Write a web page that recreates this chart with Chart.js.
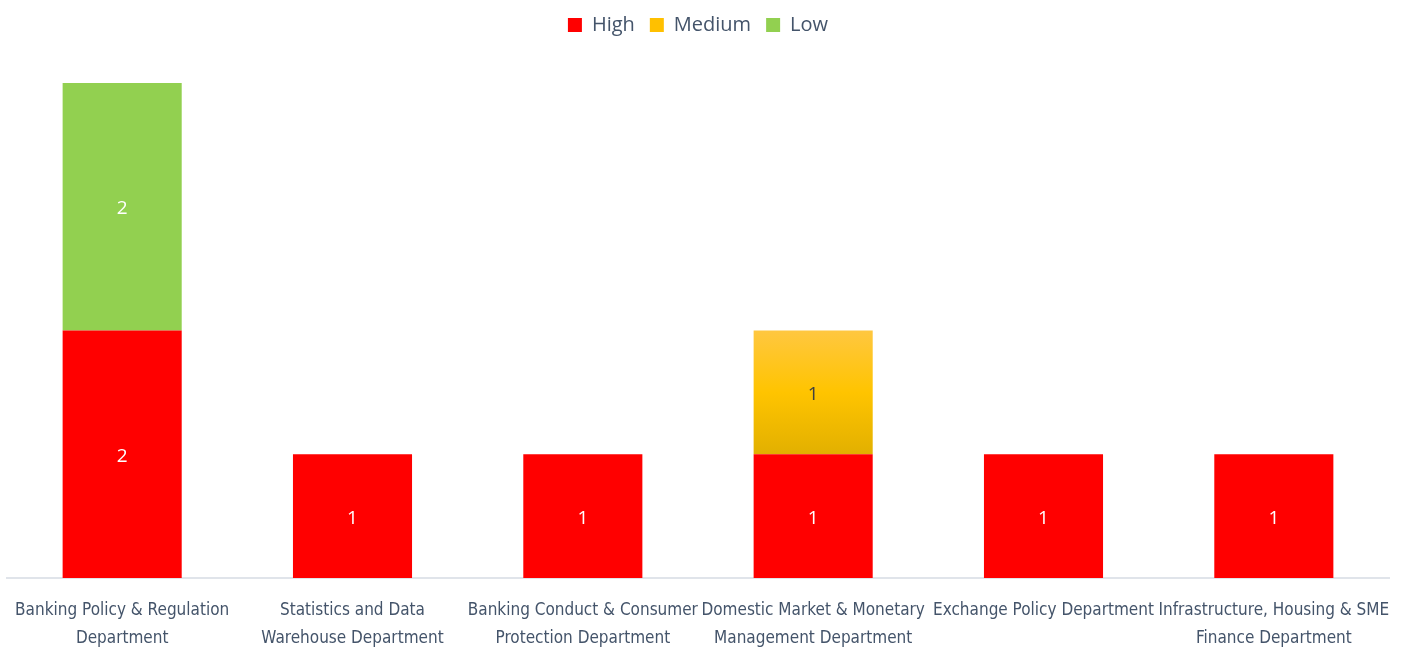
<!DOCTYPE html>
<html>
<head>
<meta charset="utf-8">
<script src="https://cdn.jsdelivr.net/npm/chart.js@4"></script>
<style>
  html, body { margin: 0; padding: 0; background: #ffffff; }
  #wrap { width: 1406px; height: 649px; position: relative; }
</style>
</head>
<body>
<div id="wrap"><canvas id="c" width="1406" height="649"></canvas></div>
<script>
const categories = [
  ["Banking Policy & Regulation", "Department"],
  ["Statistics and Data", "Warehouse Department"],
  ["Banking Conduct & Consumer", "Protection Department"],
  ["Domestic Market & Monetary", "Management Department"],
  ["Exchange Policy Department"],
  ["Infrastructure, Housing & SME", "Finance Department"]
];
const highValues = [2, 1, 1, 1, 1, 1];
const mediumValues = [0, 0, 0, 1, 0, 0];
const lowValues = [2, 0, 0, 0, 0, 0];
const yMax = 4;

function mediumFill(ctx) {
  const chart = ctx.chart;
  const area = chart.chartArea;
  if (!area || ctx.dataIndex === undefined) return '#FFC000';
  const y = chart.scales.y;
  const i = ctx.dataIndex;
  const top = y.getPixelForValue(highValues[i] + mediumValues[i]);
  const bottom = y.getPixelForValue(highValues[i]);
  if (!isFinite(top) || !isFinite(bottom) || top === bottom) return '#FFC000';
  const g = chart.ctx.createLinearGradient(0, top, 0, bottom);
  g.addColorStop(0, '#FFC740');
  g.addColorStop(0.5, '#FFC400');
  g.addColorStop(1, '#E2B000');
  return g;
}

const labelPlugin = {
  id: 'segLabels',
  afterDatasetsDraw(chart) {
    const ctx = chart.ctx;
    ctx.save();
    ctx.font = '19px "Open Sans", sans-serif';
    ctx.textAlign = 'center';
    ctx.textBaseline = 'middle';
    chart.data.datasets.forEach((ds, di) => {
      const meta = chart.getDatasetMeta(di);
      meta.data.forEach((el, i) => {
        const v = ds.data[i];
        if (!v) return;
        ctx.fillStyle = ds.labelColor;
        ctx.fillText(String(v), el.x, (el.y + el.base) / 2 + 2);
      });
    });
    ctx.restore();
  }
};

new Chart(document.getElementById('c'), {
  type: 'bar',
  data: {
    labels: categories,
    datasets: [
      { label: 'High', data: highValues, backgroundColor: '#FF0000', labelColor: '#FFFFFF', legendColor: '#FF0000' },
      { label: 'Medium', data: mediumValues, backgroundColor: mediumFill, labelColor: '#404040', legendColor: '#FFC000' },
      { label: 'Low', data: lowValues, backgroundColor: '#92D050', labelColor: '#FFFFFF', legendColor: '#92D050' }
    ]
  },
  options: {
    responsive: false,
    animation: false,
    layout: { padding: { left: 7, right: 17, top: 0, bottom: 0 } },
    datasets: { bar: { categoryPercentage: 1, barPercentage: 0.517, borderWidth: 0 } },
    plugins: {
      tooltip: { enabled: false },
      legend: {
        position: 'top',
        align: 'center',
        onClick: null,
        labels: {
          boxWidth: 14,
          boxHeight: 14,
          padding: 15,
          color: '#44546A',
          font: { family: '"Open Sans", sans-serif', size: 20 },
          generateLabels(chart) {
            return chart.data.datasets.map((ds, i) => ({
              text: ds.label,
              fillStyle: ds.legendColor,
              strokeStyle: ds.legendColor,
              lineWidth: 0,
              fontColor: '#44546A',
              datasetIndex: i,
              hidden: false
            }));
          }
        }
      }
    },
    scales: {
      x: {
        stacked: true,
        grid: { display: false, drawTicks: false },
        border: { display: true, color: '#E0E4EA', width: 2 },
        ticks: {
          color: '#44546A',
          padding: 19,
          maxRotation: 0,
          minRotation: 0,
          autoSkip: false,
          font: { family: '"DejaVu Sans"', weight: 'normal condensed', size: 17, lineHeight: 1.62 }
        },
        afterFit(scale) { scale.height = 71; scale.paddingLeft = 0; scale.paddingRight = 0; }
      },
      y: {
        stacked: true,
        display: false,
        min: 0,
        max: yMax
      }
    }
  },
  plugins: [labelPlugin, {
    id: 'legendHeight',
    afterInit(chart) {
      const lg = chart.legend;
      const origFit = lg.fit.bind(lg);
      lg.fit = function () { origFit(); this.height = 83; };
    }
  }]
});
</script>
</body>
</html>
